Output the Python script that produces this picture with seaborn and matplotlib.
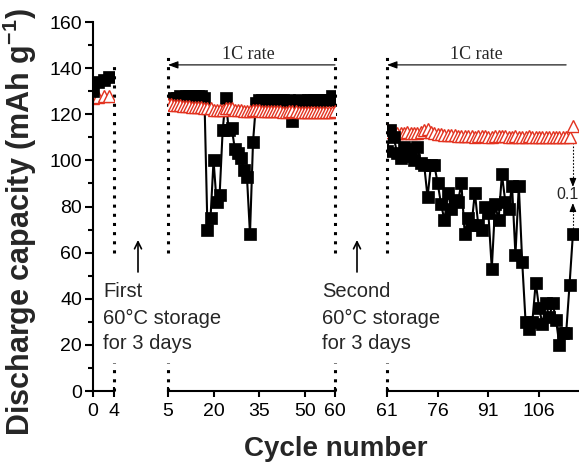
import matplotlib
matplotlib.use("Agg")
import matplotlib.pyplot as plt
from matplotlib.ticker import FixedLocator, MultipleLocator
import pandas as pd
import seaborn as sns

# ---- data: discharge capacity per cycle, three runs separated by 60 °C storage ----
cycles_a = [0, 1, 2, 3]
cap_sq_a = [130, 134, 135, 136]
cap_tri_a = [127, 127.5, 128, 128]

cycles_b = list(range(5, 61))
cap_sq_b = [126, 127, 126, 127, 128, 127, 128, 128, 128, 128,
            128, 128, 127, 70, 75, 100, 82, 85, 113, 127,
            113, 114, 105, 103, 101, 96, 93, 68, 108, 125,
            126, 126, 125, 126, 126, 125, 126, 126, 126, 125,
            126, 117, 125, 126, 125, 125, 126, 126, 126, 126,
            125, 126, 126, 126, 128, 126]
cap_tri_b = [124.5, 124.5, 124, 124, 124, 123.5, 123.5, 123.5, 123, 123,
             123, 123, 122.5, 122.5, 122.5, 122, 122, 122, 122, 122.5,
             122.5, 122.5, 122, 122, 122, 121.5, 121.5, 121.5, 122, 122,
             122, 121.5, 121.5, 121.5, 121.5, 121.5, 121.5, 121.5, 121, 121,
             121.5, 121.5, 121.5, 121, 121, 121, 121, 121, 121, 121,
             121, 121, 121, 121, 121, 121.5]

cycles_c = list(range(61, 117))
cap_sq_c = [104, 113, 110, 103, 101, 106, 102, 105, 100, 106,
            99, 98, 84, 98, 98, 90, 81, 74, 86, 79,
            83, 82, 90, 68, 75, 72, 86, 72, 70, 80,
            77, 53, 81, 74, 94, 82, 79, 89, 59, 89,
            56, 30, 27, 30, 47, 36, 29, 38, 32, 38,
            31, 20, 25, 25, 46, 68]
cap_tri_c = [113, 112.5, 112.5, 112, 112, 112, 112.5, 112, 112, 112,
             112.5, 113, 113.5, 112.5, 112, 111.5, 111.5, 111, 111, 111,
             111, 110.5, 110.5, 110.5, 110.5, 110.5, 110, 110.5, 110.5, 110.5,
             110, 110, 110.5, 110.5, 110.5, 110.5, 110, 110, 110.5, 110,
             110, 110, 110.5, 110, 110, 110, 110, 110, 110, 110,
             110, 110, 110, 110, 110, 115]

xticks_a = [0, 4]
xticks_b = [5, 20, 35, 50, 60]
xticks_c = [61, 76, 91, 106]

RED = "#e2321f"

sns.set_style("ticks")
plt.rcParams["font.family"] = ["Liberation Sans", "DejaVu Sans"]
plt.rcParams["mathtext.fontset"] = "custom"
plt.rcParams["mathtext.rm"] = "Liberation Sans"
plt.rcParams["mathtext.it"] = "Liberation Sans:italic"
plt.rcParams["mathtext.bf"] = "Liberation Sans:bold"

W, H = 579, 465
fig = plt.figure(figsize=(W / 100, H / 100), dpi=100)

y0_px, y160_px = 391, 22
bot = 1 - y0_px / H
hgt = (y0_px - y160_px) / H

ax1 = fig.add_axes([93 / W, bot, 21 / W, hgt])
ax2 = fig.add_axes([168 / W, bot, 167 / W, hgt])
ax3 = fig.add_axes([387 / W, bot, 59 * 3.38 / W, hgt])


def draw_segment(ax, cyc, sq, tri, tri_on_top):
    df = pd.DataFrame({"cycle": cyc, "sq": sq, "tri": tri})
    sns.lineplot(data=df, x="cycle", y="tri", ax=ax, color=RED, lw=1.0,
                 marker="^", markersize=9, markerfacecolor="white",
                 markeredgecolor=RED, markeredgewidth=1.0,
                 zorder=4 if tri_on_top else 2, clip_on=True)
    sns.lineplot(data=df, x="cycle", y="sq", ax=ax, color="black", lw=1.5,
                 marker="s", markersize=8, markerfacecolor="black",
                 markeredgecolor="black", markeredgewidth=0.5, zorder=3, clip_on=True)
    ax.set_xlabel("")
    ax.set_ylabel("")


draw_segment(ax1, cycles_a, cap_sq_a, cap_tri_a, False)
draw_segment(ax2, cycles_b, cap_sq_b, cap_tri_b, True)
draw_segment(ax3, cycles_c, cap_sq_c, cap_tri_c, False)

ax1.set_xlim(0, 4)
ax2.set_xlim(5, 60)
ax3.set_xlim(61, 120)

for ax, ticks, caps in ((ax1, xticks_a, [4]), (ax2, xticks_b, [5, 60]), (ax3, xticks_c, [61])):
    ax.set_ylim(0, 160)
    ax.set_facecolor("none")
    ax.set_xticks(ticks)
    ax.set_xticklabels([str(t) for t in ticks])
    ax.xaxis.remove_overlapping_locs = False
    ax.xaxis.set_minor_locator(FixedLocator(caps))
    ax.tick_params(axis="x", which="major", direction="out", length=4.5, width=1.5,
                   labelsize=14, pad=4, color="black", labelcolor="black")
    ax.tick_params(axis="x", which="minor", direction="in", length=3, width=1.5, color="black")
    for s in ("top", "right", "left"):
        ax.spines[s].set_visible(False)
    ax.spines["bottom"].set_linewidth(1.5)
    ax.spines["bottom"].set_color("black")
    if ax is not ax1:
        ax.tick_params(axis="y", which="both", left=False, labelleft=False)

ax1.spines["left"].set_visible(True)
ax1.spines["left"].set_linewidth(1.5)
ax1.spines["left"].set_color("black")
ax1.set_yticks(range(0, 161, 20))
ax1.yaxis.set_minor_locator(MultipleLocator(10))
ax1.tick_params(axis="y", which="major", direction="out", length=6, width=1.5,
                labelsize=14, pad=2, color="black", labelcolor="black")
ax1.tick_params(axis="y", which="minor", direction="out", length=3.5, width=1.5, color="black")

ax1.set_ylabel("Discharge capacity (mAh g$\\mathbf{^{-1}}$)", fontsize=22, fontweight="bold")
ax1.yaxis.set_label_coords((39 - 93) / 21, 0.458)
fig.text(336 / W, 1 - 449 / H, "Cycle number", ha="center", va="center",
         fontsize=20, fontweight="bold")

# dotted boundaries of each cycling run
dot = (0, (1, 2))
for ax, xv, top in ((ax1, 4, 141), (ax2, 5, 145), (ax2, 60, 146), (ax3, 61, 146)):
    ax.vlines(xv, 0, 12, colors="black", linestyles=dot, lw=2.2, clip_on=False, zorder=1)
    ax.vlines(xv, 60, top, colors="black", linestyles=dot, lw=2.2, clip_on=False, zorder=1)

# rate markers
arrow_kw = dict(arrowstyle="-|>,head_length=0.6,head_width=0.22", lw=0.8, color="black",
                shrinkA=0, shrinkB=0)
ax2.annotate("", xy=(5, 141.4), xytext=(60, 141.4), arrowprops=arrow_kw, annotation_clip=False)
ax2.text(31.5, 146, "1C rate", ha="center", va="center", fontsize=13,
         family=["Liberation Serif", "DejaVu Serif"])
ax3.annotate("", xy=(61, 141.4), xytext=(114, 141.4), arrowprops=arrow_kw, annotation_clip=False)
ax3.text(87.4, 146, "1C rate", ha="center", va="center", fontsize=13,
         family=["Liberation Serif", "DejaVu Serif"])

# 0.1C check cycle
ax3.vlines(116, 91, 107, colors="black", linestyles=(0, (1.5, 1.5)), lw=0.8)
ax3.vlines(116, 69, 79, colors="black", linestyles=(0, (1.5, 1.5)), lw=0.8)
small_head = dict(arrowstyle="-|>,head_length=0.5,head_width=0.2", lw=0.8, color="black",
                  shrinkA=0, shrinkB=0)
ax3.annotate("", xy=(116, 88.5), xytext=(116, 91.5), arrowprops=small_head)
ax3.annotate("", xy=(116, 81.5), xytext=(116, 78.5), arrowprops=small_head)
ax3.text(116, 85, "0.1C", ha="center", va="center", fontsize=11.5)

# storage notes
storage_line = "60\u00b0C storage"
baselines = [297, 324, 349]
for x_px, first in ((103, "First"), (322, "Second")):
    for line, yb in zip([first, storage_line, "for 3 days"], baselines):
        fig.text(x_px / W, 1 - yb / H, line, ha="left", va="baseline", fontsize=14.5)
for x_px in (138, 357):
    ax1.annotate("", xy=(x_px / W, 1 - 240 / H), xytext=(x_px / W, 1 - 272 / H),
                 xycoords="figure fraction", textcoords="figure fraction",
                 arrowprops=dict(arrowstyle="->,head_length=0.5,head_width=0.25", lw=1.2,
                                 color="black", shrinkA=0, shrinkB=0))

fig.savefig("out.png", dpi=100)
